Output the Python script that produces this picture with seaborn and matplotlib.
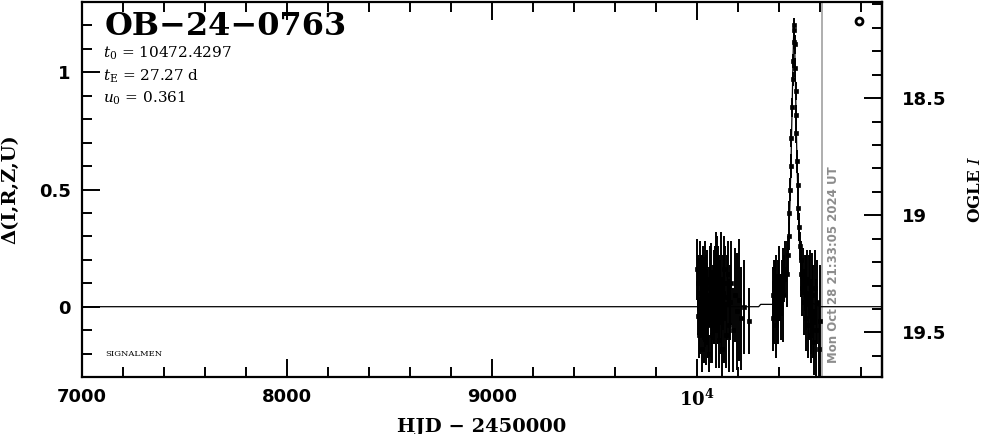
import numpy as np
import pandas as pd
import matplotlib
matplotlib.use("Agg")
import matplotlib.pyplot as plt
import seaborn as sns
from matplotlib.ticker import MultipleLocator, FixedLocator, FuncFormatter

# photometry, season 1 (HJD - 2450000, delta mag, error)
t_s1 = [10000, 10002, 10004, 10007, 10009, 10012, 10014, 10017, 10019, 10022,
        10024, 10027, 10029, 10032, 10035, 10037, 10040, 10042, 10045, 10048,
        10050, 10053, 10056, 10058, 10061, 10064, 10066, 10069, 10072, 10074,
        10077, 10080, 10082, 10085, 10088, 10090, 10093, 10096, 10098, 10101,
        10104, 10106, 10109, 10112, 10114, 10117, 10120, 10123, 10126, 10129,
        10132, 10136, 10140, 10144, 10149, 10154, 10160, 10167, 10175, 10183,
        10192, 10202, 10214, 10228, 10254]
d_s1 = [0.16, -0.04, 0.10, -0.12, 0.06, 0.20, -0.08, 0.02, 0.12, -0.18,
        0.06, -0.02, 0.14, -0.10, 0.03, 0.18, -0.05, 0.08, -0.15, 0.00,
        0.12, -0.08, 0.05, -0.20, 0.10, 0.02, -0.06, 0.15, 0.00, -0.12,
        0.08, 0.04, -0.04, 0.12, 0.00, 0.20, -0.10, 0.06, 0.10, -0.02,
        0.14, -0.14, 0.04, 0.08, -0.06, 0.12, 0.02, -0.18, 0.06, 0.16,
        -0.04, 0.10, -0.12, 0.04, 0.14, -0.08, 0.02, 0.10, -0.10, 0.05,
        -0.02, 0.03, -0.05, 0.00, -0.06]
e_s1 = [0.13, 0.08, 0.12, 0.10, 0.14, 0.08, 0.12, 0.15, 0.10, 0.10,
        0.16, 0.12, 0.12, 0.14, 0.18, 0.10, 0.12, 0.14, 0.10, 0.16,
        0.12, 0.14, 0.12, 0.08, 0.16, 0.10, 0.18, 0.12, 0.14, 0.12,
        0.10, 0.20, 0.12, 0.14, 0.10, 0.12, 0.16, 0.12, 0.20, 0.14,
        0.12, 0.12, 0.18, 0.12, 0.14, 0.20, 0.10, 0.12, 0.16, 0.14,
        0.20, 0.16, 0.14, 0.18, 0.14, 0.20, 0.16, 0.18, 0.18, 0.20,
        0.25, 0.26, 0.22, 0.20, 0.14]

# photometry, season 2 (event)
t_s2 = [10368, 10371, 10374, 10377, 10380, 10383, 10386, 10389, 10392, 10395,
        10399, 10403, 10408, 10413, 10418, 10424, 10430, 10436, 10441, 10446,
        10450, 10454, 10457, 10460, 10463, 10466, 10468, 10470, 10472, 10474,
        10476, 10478, 10480, 10482, 10484, 10487, 10490, 10494, 10497, 10501,
        10505, 10509, 10513, 10517, 10521, 10525, 10529, 10533, 10537, 10541,
        10545, 10549, 10553, 10557, 10561, 10566, 10571, 10576, 10581, 10586,
        10592, 10598]
d_s2 = [0.05, -0.05, 0.10, 0.00, 0.08, -0.08, 0.12, 0.02, 0.06, -0.04,
        0.10, 0.04, 0.00, 0.08, 0.05, 0.12, 0.16, 0.14, 0.22, 0.30,
        0.40, 0.50, 0.60, 0.72, 0.85, 0.97, 1.05, 1.13, 1.18, 1.20,
        1.12, 1.02, 0.92, 0.82, 0.74, 0.62, 0.52, 0.42, 0.34, 0.26,
        0.20, 0.14, 0.08, 0.15, 0.02, 0.10, -0.05, 0.06, 0.12, -0.08,
        0.04, 0.10, -0.04, -0.12, 0.05, -0.02, -0.15, 0.08, -0.10, 0.02,
        -0.18, -0.06]
e_s2 = [0.12, 0.14, 0.10, 0.16, 0.12, 0.14, 0.10, 0.12, 0.14, 0.12,
        0.16, 0.10, 0.14, 0.12, 0.20, 0.10, 0.12, 0.14, 0.08, 0.06,
        0.05, 0.05, 0.05, 0.04, 0.04, 0.03, 0.03, 0.03, 0.03, 0.03,
        0.04, 0.04, 0.04, 0.04, 0.04, 0.05, 0.05, 0.05, 0.06, 0.06,
        0.08, 0.10, 0.12, 0.10, 0.14, 0.12, 0.14, 0.16, 0.12, 0.14,
        0.18, 0.14, 0.16, 0.12, 0.18, 0.20, 0.14, 0.16, 0.22, 0.18,
        0.20, 0.24]

# model curve
t_model = [7000, 10000, 10300, 10310, 10370, 10400, 10420, 10435, 10445, 10452,
           10458, 10463, 10467, 10470, 10472.4, 10475, 10478, 10482, 10487, 10493,
           10500, 10510, 10525, 10550, 10600, 10900]
d_model = [0.0, 0.0, 0.0, 0.01, 0.01, 0.03, 0.06, 0.14, 0.26, 0.42,
           0.62, 0.84, 1.02, 1.14, 1.20, 1.14, 1.02, 0.84, 0.62, 0.42,
           0.26, 0.14, 0.06, 0.02, 0.0, 0.0]

x_ticks = [7000, 8000, 9000, 10000]
mag_base = 19.39
t_now = 10610

pts = pd.DataFrame({"t": t_s1 + t_s2, "d": d_s1 + d_s2, "e": e_s1 + e_s2})
model = pd.DataFrame({"t": t_model, "d": d_model})

sns.set_theme(style="ticks")
plt.rcParams["font.family"] = ["DejaVu Serif", "DejaVu Sans"]
plt.rcParams["mathtext.fontset"] = "dejavuserif"
plt.rcParams["text.color"] = "black"
plt.rcParams["axes.labelcolor"] = "black"
plt.rcParams["xtick.color"] = "black"
plt.rcParams["ytick.color"] = "black"

fig = plt.figure(figsize=(9.86, 4.34), dpi=100)
ax = fig.add_axes([0.0832, 0.1313, 0.8114, 0.8641])

ax.errorbar(pts["t"], pts["d"], yerr=pts["e"], fmt="none", ecolor="black",
            elinewidth=1.4, capsize=0, zorder=3)
sns.scatterplot(data=pts, x="t", y="d", marker="s", s=5, color="black",
                edgecolor="black", linewidth=0.5, ax=ax, zorder=4)
sns.lineplot(data=model, x="t", y="d", estimator=None, sort=False,
             color="black", linewidth=0.9, ax=ax, zorder=2)

ax.axvline(t_now, color="#999999", linewidth=1.1, zorder=1)
ax.text(t_now + 22, -0.24, "Mon Oct 28 21:33:05 2024 UT", rotation=90,
        color="#8c8c8c", fontsize=8.5, fontweight="bold", ha="left", va="bottom",
        family="DejaVu Sans")

ax.plot([10790], [1.218], marker="o", markersize=5, markerfacecolor="white",
        markeredgecolor="black", markeredgewidth=2, zorder=5)

ax.set_xlim(7000, 10902)
ax.set_ylim(-0.3, 1.3)

ax.xaxis.set_major_locator(FixedLocator(x_ticks))
ax.xaxis.set_minor_locator(MultipleLocator(200))
ax.xaxis.set_major_formatter(FuncFormatter(
    lambda v, p: r"$\mathbf{10^4}$" if v == 10000 else f"{int(v)}"))
ax.yaxis.set_major_locator(MultipleLocator(0.5))
ax.yaxis.set_minor_locator(MultipleLocator(0.1))
ax.yaxis.set_major_formatter(FuncFormatter(
    lambda v, p: "0" if abs(v) < 1e-9 else ("1" if abs(v - 1) < 1e-9 else f"{v:g}")))

for s in ax.spines.values():
    s.set_linewidth(1.6)
    s.set_visible(True)
    s.set_color("black")
ax.tick_params(which="both", direction="in", top=True, right=False,
               width=1.4, colors="black")
ax.tick_params(which="major", length=13, labelsize=13, pad=8)
ax.tick_params(which="minor", length=7)
for lbl in ax.get_xticklabels() + ax.get_yticklabels():
    lbl.set_fontweight("bold")
    lbl.set_family("DejaVu Sans")

sec = ax.secondary_yaxis("right", functions=(lambda d: mag_base - d,
                                              lambda m: mag_base - m))
sec.yaxis.set_major_locator(FixedLocator([18.5, 19.0, 19.5]))
sec.yaxis.set_minor_locator(MultipleLocator(0.1))
sec.yaxis.set_major_formatter(FuncFormatter(lambda v, p: f"{v:g}"))
sec.spines["right"].set_linewidth(1.6)
sec.spines["right"].set_color("black")
sec.tick_params(which="both", direction="in", width=1.4, colors="black")
sec.tick_params(which="major", length=13, labelsize=13, pad=14)
sec.tick_params(which="minor", length=7)
for lbl in sec.get_yticklabels():
    lbl.set_fontweight("bold")
    lbl.set_family("DejaVu Sans")
sec.set_ylabel(r"OGLE $\mathit{I}$", fontsize=12, fontweight="bold", labelpad=15)

ax.set_xlabel("HJD \u2212 2450000", fontsize=14, fontweight="bold", labelpad=6)
ax.set_ylabel("\u0394(I,R,Z,U)", fontsize=14, fontweight="bold", labelpad=14)

ax.text(0.028, 0.975, "OB\u221224\u22120763", transform=ax.transAxes,
        fontsize=23, fontweight="bold", ha="left", va="top")
ax.text(0.026, 0.862, r"$t_{\rm 0}$ = 10472.4297", transform=ax.transAxes,
        fontsize=11, ha="left", va="center")
ax.text(0.026, 0.803, r"$t_{\rm E}$ = 27.27 d", transform=ax.transAxes,
        fontsize=11, ha="left", va="center")
ax.text(0.026, 0.742, r"$u_{\rm 0}$ = 0.361", transform=ax.transAxes,
        fontsize=11, ha="left", va="center")
ax.text(0.029, 0.062, "SIGNALMEN", transform=ax.transAxes,
        fontsize=6, ha="left", va="center")

fig.savefig("out.png", dpi=100)
